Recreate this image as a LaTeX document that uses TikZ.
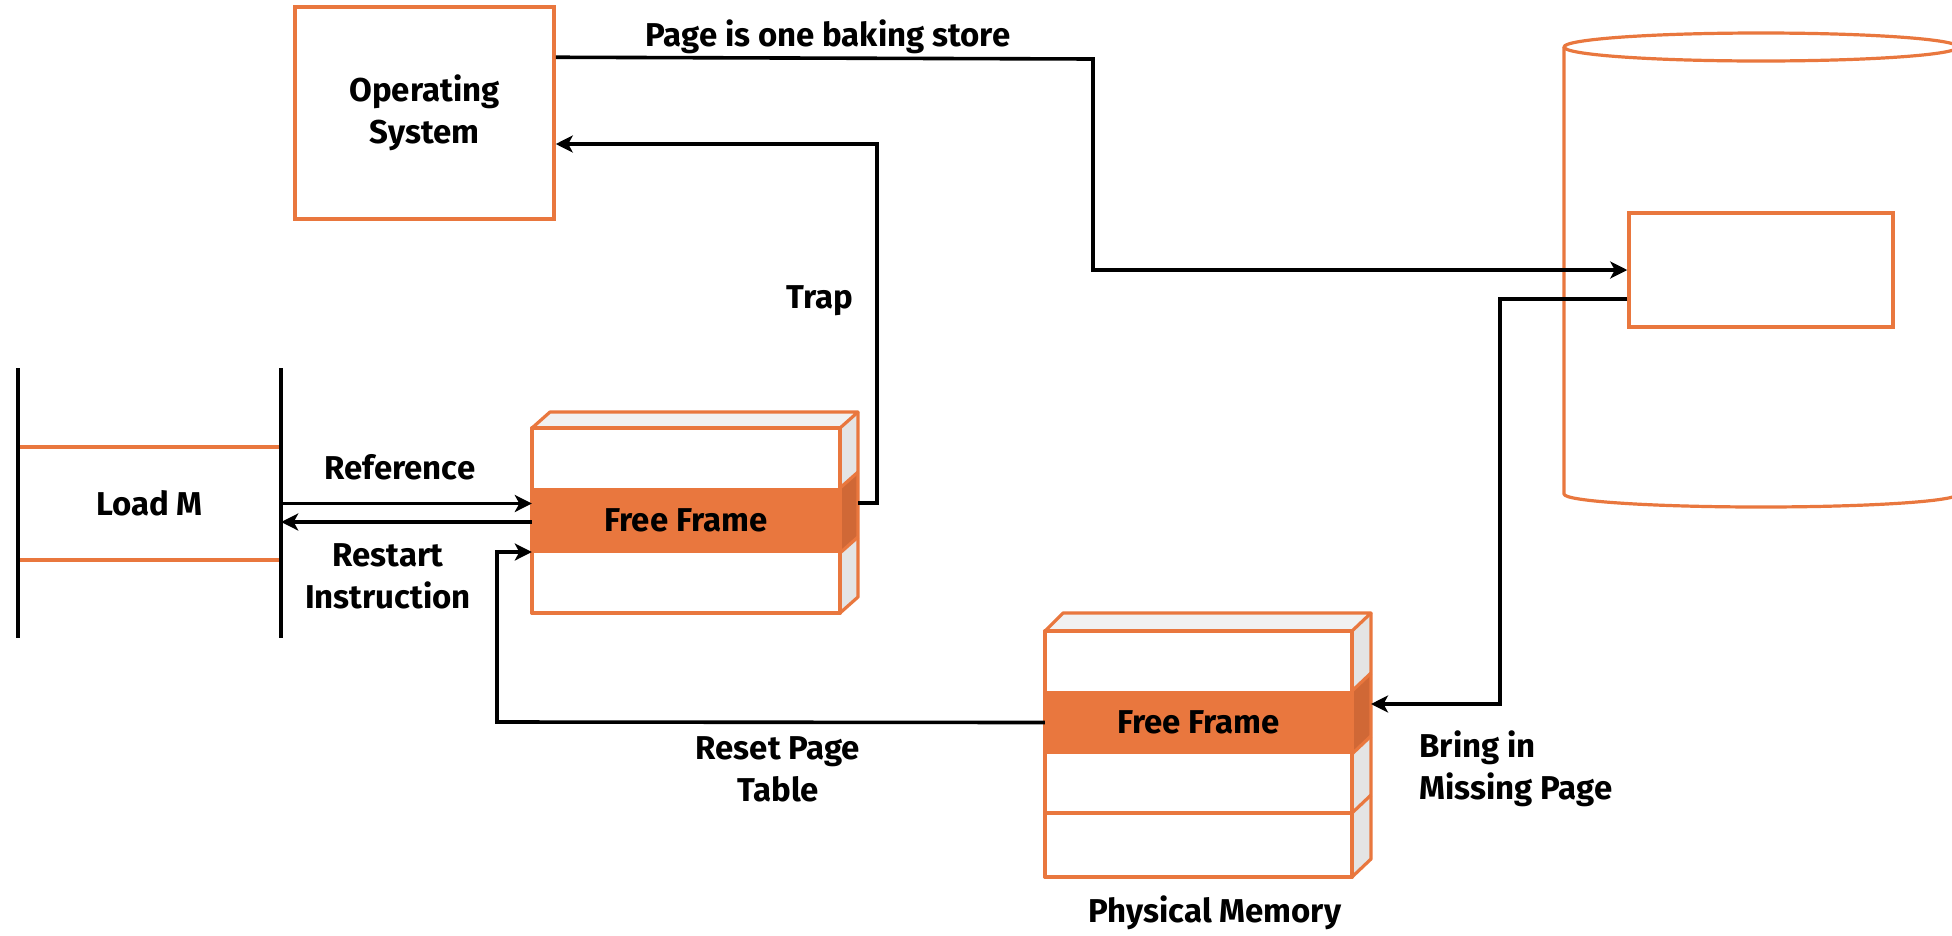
\documentclass[tikz,border=0pt]{standalone}
\usepackage{fontspec}
\setmainfont{Fira Sans}
\usetikzlibrary{arrows.meta,calc}
\definecolor{org}{RGB}{233,119,62}
\definecolor{orgdark}{RGB}{208,104,54}
\definecolor{topgray}{RGB}{241,241,241}
\definecolor{sidegray}{RGB}{228,228,228}
\tikzset{
  lbl/.style={font=\fontsize{33}{42}\selectfont\bfseries, align=center, text=black},
  obox/.style={draw=org, line width=3.5pt, fill=white},
  conn/.style={draw=black, line width=3.6pt},
  arr/.style={conn, -{Stealth[length=17pt,width=17pt,inset=4.5pt]}},
  oline/.style={draw=org, line width=3.2pt, line join=round},
  blk/.style={draw=black, line width=3.6pt},
}
\begin{document}
\begin{tikzpicture}[x=1pt,y=-1pt]
\useasboundingbox (0,0) rectangle (1952,935);
\clip (0,0) rectangle (1952,935);
\fill[white] (0,0) rectangle (1952,935);

% Operating system
\node[obox, lbl, minimum width=259pt, minimum height=212pt, inner sep=0pt] (os) at (424.5,113) {Operating\\System};

% cylinder (backing store)
\draw[oline, fill=white] (1564,47) -- (1564,494) arc[start angle=180, end angle=360, x radius=197pt, y radius=13pt] -- (1958,47);
\draw[oline] (1761,47) ellipse[x radius=197pt, y radius=14pt];
\node[obox, minimum width=264pt, minimum height=114pt, inner sep=0pt] (inner) at (1761,270) {};

% Load M
\node[lbl, minimum width=263pt, minimum height=113pt, inner sep=0pt] (loadm) at (149.5,503.5) {Load M};
\draw[oline] (18,447) -- (281,447);
\draw[oline] (18,560) -- (281,560);
\draw[blk] (18,368) -- (18,638);
\draw[blk] (281,368) -- (281,638);

% Frame 1 (3D)
\fill[topgray] (532,428) -- (550,412) -- (858,412) -- (840,428) -- cycle;
\fill[sidegray] (840,428) -- (858,412) -- (858,597) -- (840,613) -- cycle;
\fill[orgdark] (840,488) -- (858,472) -- (858,537) -- (840,553) -- cycle;
\draw[oline] (532,428) -- (550,412) -- (858,412) -- (840,428);
\draw[oline] (858,412) -- (858,597) -- (840,613);
\draw[oline] (840,488) -- (858,472);
\draw[oline] (840,553) -- (858,537);
\draw[oline, fill=white] (532,428) rectangle (840,613);
\node[fill=org, lbl, minimum width=308pt, minimum height=65pt, inner sep=0pt] (ff1) at (686,520.5) {Free Frame};
\draw[oline] (532,428) rectangle (840,613);

% Frame 2 (Physical memory)
\fill[topgray] (1045,631) -- (1063,613) -- (1371,613) -- (1352,631) -- cycle;
\fill[sidegray] (1352,631) -- (1371,613) -- (1371,859) -- (1352,877) -- cycle;
\fill[orgdark] (1352,691) -- (1371,673) -- (1371,736) -- (1352,754) -- cycle;
\draw[oline] (1045,631) -- (1063,613) -- (1371,613) -- (1352,631);
\draw[oline] (1371,613) -- (1371,859) -- (1352,877);
\draw[oline] (1352,691) -- (1371,673);
\draw[oline] (1352,754) -- (1371,736);
\draw[oline] (1352,813) -- (1371,795);
\draw[oline, fill=white] (1045,631) rectangle (1352,877);
\node[fill=org, lbl, minimum width=307pt, minimum height=63pt, inner sep=0pt] (ff2) at (1198.5,722.5) {Free Frame};
\draw[oline] (1045,813) -- (1352,813);
\draw[oline] (1045,631) rectangle (1352,877);
\node[lbl] (pm) at (1215,913) {Physical Memory};

% connectors
\coordinate (osout) at ($(os.north east)+(0,52)$);
\coordinate (j1) at (1093,59);
\coordinate (j2) at (1093,270);
\draw[arr] (osout) -- (j1) -- (j2) -- (inner.west);

\coordinate (instart) at ($(inner.west)+(0,29)$);
\coordinate (j3) at (1500,299);
\coordinate (j4) at (1500,704);
\coordinate (pmin) at (1371,704);
\draw[arr] (instart) -- (j3) -- (j4) -- (pmin);

\coordinate (trapout) at (858,503);
\coordinate (j5) at (877,503);
\coordinate (j6) at (877,144);
\draw[arr] (trapout) -- (j5) -- (j6) -- ($(os.east)+(0,31)$);

\draw[arr] (loadm.east) -- (ff1.west |- loadm.east);
\draw[arr] ($(ff1.west)+(0,1.5)$) -- ($(loadm.east)+(0,18.5)$);

\coordinate (j7) at (497,722);
\coordinate (j8) at (497,552);
\draw[arr] (ff2.west) -- (j7) -- (j8) -- (ff1.west |- j8);

% labels
\node[lbl] (l1) at (828,37) {Page is one baking store};
\node[lbl] (l2) at (820,301) {Trap};
\node[lbl] (l3) at (400,467) {Reference};
\node[lbl] (l4) at (388,576) {Restart\\Instruction};
\node[lbl] (l5) at (778,769) {Reset Page\\Table};
\node[lbl, align=left, anchor=west] (l6) at (1416,769) {Bring in\\Missing Page};
\end{tikzpicture}
\end{document}
